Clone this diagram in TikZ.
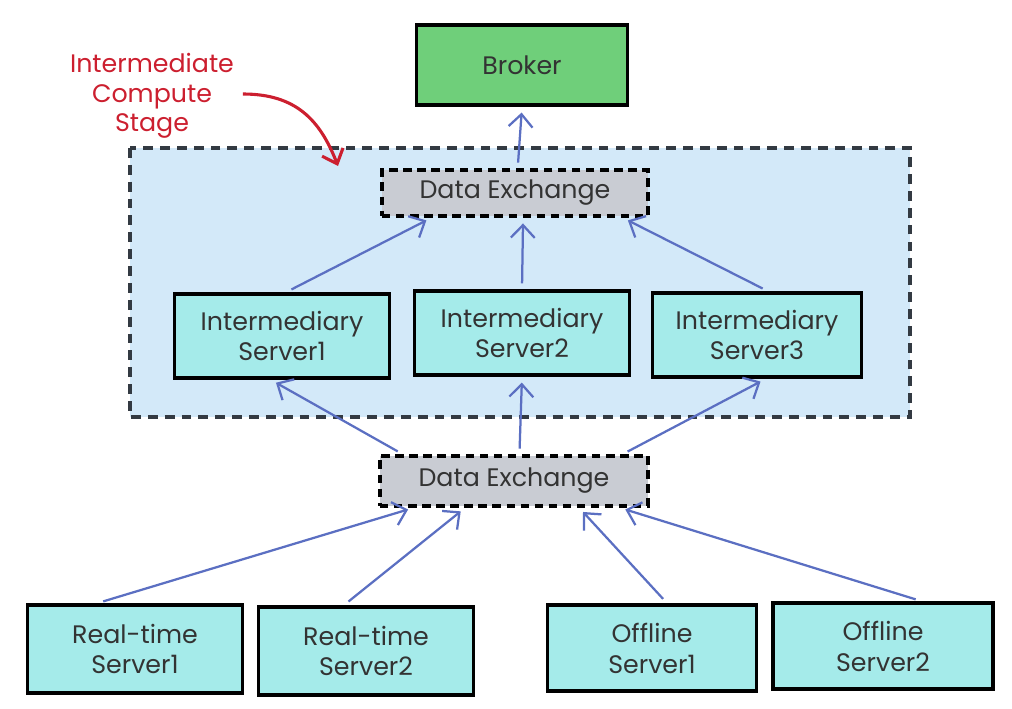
\documentclass[tikz,border=0pt]{standalone}
\usepackage{fontspec}
\setmainfont{Poppins}
\usetikzlibrary{arrows.meta,calc}

\definecolor{brokergreen}{HTML}{6FCF7A}
\definecolor{stageblue}{HTML}{D3E9F9}
\definecolor{servercyan}{HTML}{A5EBEA}
\definecolor{exchgray}{HTML}{C9CCD3}
\definecolor{arrowblue}{HTML}{5B6FC2}
\definecolor{notered}{HTML}{CC1F2F}
\definecolor{framegray}{HTML}{333A42}

\tikzset{
  server/.style={draw=black,line width=2.8pt,fill=servercyan,minimum width=5.375cm,minimum height=2.1cm,align=center,font=\fontsize{18}{22}\selectfont,text=black!80},
  broker/.style={draw=black,line width=2.8pt,fill=brokergreen,minimum width=5.275cm,minimum height=2cm,font=\fontsize{18}{22}\selectfont,text=black!80},
  exchange/.style={draw=black,line width=2.6pt,dash pattern=on 6pt off 4pt,fill=exchgray,minimum width=6.65cm,minimum height=1.15cm,font=\fontsize{18}{22}\selectfont,text=black!80},
  flow/.style={draw=arrowblue,line width=1.6pt,-{Straight Barb[length=9pt,width=17pt]},shorten >=4pt,shorten <=4pt},
}

\begin{document}
\begin{tikzpicture}
\useasboundingbox (0,0) rectangle (25.3,-17.725);

%intermediate compute stage
\draw[framegray,line width=2.6pt,dash pattern=on 7pt off 5pt,fill=stageblue] (3.25,-3.7) rectangle (22.75,-10.425);

%broker
\node[broker] (broker) at (13.05,-1.625) {Broker};

%data exchanges
\node[exchange] (dext) at (12.875,-4.825) {Data Exchange};
\node[exchange,minimum width=6.7cm,minimum height=1.25cm] (dexb) at (12.85,-12.025) {Data Exchange};

%intermediary servers
\node[server] (is1) at (7.05,-8.4) {Intermediary\\Server1};
\node[server] (is2) at (13.05,-8.325) {Intermediary\\Server2};
\node[server,minimum width=5.225cm] (is3) at (18.925,-8.375) {Intermediary\\Server3};

%source servers
\node[server,minimum height=2.2cm] (rt1) at (3.375,-16.225) {Real-time\\Server1};
\node[server,minimum height=2.2cm] (rt2) at (9.15,-16.275) {Real-time\\Server2};
\node[server,minimum width=5.225cm,minimum height=2.15cm] (os1) at (16.3,-16.2) {Offline\\Server1};
\node[server,minimum width=5.5cm,minimum height=2.15cm] (os2) at (22.075,-16.15) {Offline\\Server2};

%stage label
\node[notered,align=center,font=\fontsize{18}{21}\selectfont] (stagelbl) at (3.8,-2.4) {Intermediate\\Compute\\Stage};
\coordinate (stagetip) at (8.45,-4.15);
\draw[notered,line width=2.2pt,-{Straight Barb[length=9pt,width=16pt]}] ($(stagelbl.east)+(0.1,0.05)$) .. controls (7.4,-2.35) and (8.0,-3.0) .. (stagetip);

%exchange -> broker
\draw[flow] ($(dext.north west)!0.51!(dext.north east)$) -- (broker.south);

%intermediary -> upper exchange
\draw[flow] ($(is1.north west)!0.52!(is1.north east)$) -- ($(dext.south west)!0.19!(dext.south east)$);
\draw[flow] (is2.north) -- ($(dext.south west)!0.53!(dext.south east)$);
\draw[flow] ($(is3.north west)!0.55!(is3.north east)$) -- ($(dext.south west)!0.9!(dext.south east)$);

%lower exchange -> intermediary
\draw[flow] ($(dexb.north west)!0.09!(dexb.north east)$) -- ($(is1.south west)!0.45!(is1.south east)$);
\draw[flow] ($(dexb.north west)!0.52!(dexb.north east)$) -- (is2.south);
\draw[flow] ($(dexb.north west)!0.9!(dexb.north east)$) -- ($(is3.south west)!0.54!(is3.south east)$);

%sources -> lower exchange
\draw[flow] ($(rt1.north west)!0.33!(rt1.north east)$) -- ($(dexb.south west)!0.13!(dexb.south east)$);
\draw[flow] ($(rt2.north west)!0.4!(rt2.north east)$) -- ($(dexb.south west)!0.32!(dexb.south east)$);
\draw[flow] ($(os1.north west)!0.57!(os1.north east)$) -- ($(dexb.south west)!0.74!(dexb.south east)$);
\draw[flow] ($(os2.north west)!0.67!(os2.north east)$) -- ($(dexb.south west)!0.89!(dexb.south east)$);

\end{tikzpicture}
\end{document}
